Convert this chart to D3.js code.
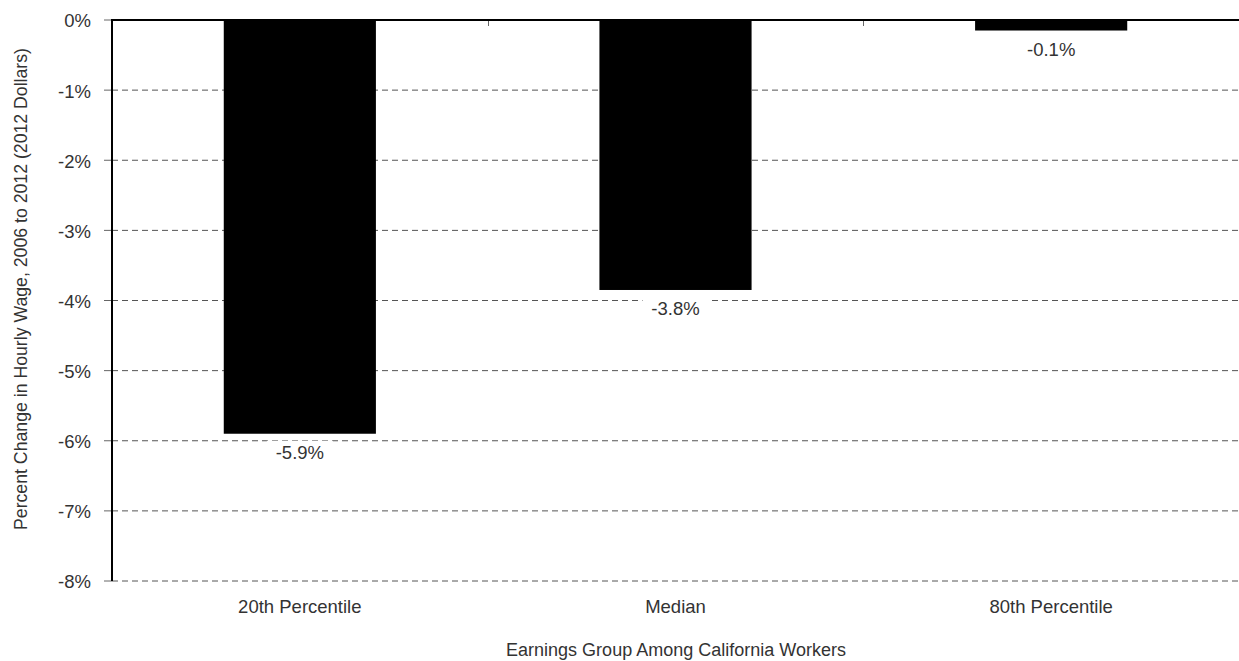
<!DOCTYPE html>
<html><head><meta charset="utf-8">
<script src="https://cdn.jsdelivr.net/npm/d3@7"></script>
<style>body{margin:0;background:#fff}svg{display:block;font-family:"Liberation Sans",Arial,sans-serif}</style>
</head><body><svg id="c" width="1239" height="661"></svg>
<script>
const categories = ["20th Percentile", "Median", "80th Percentile"];
const values = [-5.9, -3.85, -0.15];
const valueLabels = ["-5.9%", "-3.8%", "-0.1%"];
const yTicks = [0, -1, -2, -3, -4, -5, -6, -7, -8];
const yTickLabels = ["0%", "-1%", "-2%", "-3%", "-4%", "-5%", "-6%", "-7%", "-8%"];
const xTitle = "Earnings Group Among California Workers";
const yTitle = "Percent Change in Hourly Wage, 2006 to 2012 (2012 Dollars)";

const svg = d3.select("#c");
const L = 112, R = 1239, T = 20, B = 581;
const y = d3.scaleLinear().domain([0, -8]).range([T, B]);
const x = d3.scaleBand().domain(categories).range([L, R]).paddingInner(0.595).paddingOuter(0.2975);
const xb = d3.scaleBand().domain(categories).range([L, R]);
const txt = "#333";
const fs = 18.5;

// grid lines
svg.append("g").selectAll("line").data(yTicks.filter(d => d !== 0)).join("line")
  .attr("x1", L).attr("x2", R).attr("y1", d => y(d)).attr("y2", d => y(d))
  .attr("stroke", "#555").attr("stroke-width", 1).attr("stroke-dasharray", "6,4");

// y ticks
svg.append("g").selectAll("line").data(yTicks).join("line")
  .attr("x1", L - 8).attr("x2", L).attr("y1", d => y(d)).attr("y2", d => y(d))
  .attr("stroke", "#666").attr("stroke-width", 1);
svg.append("g").selectAll("text").data(yTicks).join("text")
  .attr("x", L - 21).attr("y", d => y(d) + 1).attr("dy", "0.35em")
  .attr("text-anchor", "end").attr("font-size", fs).attr("fill", txt)
  .text((d, i) => yTickLabels[i]);

// top ticks at band boundaries
svg.append("g").selectAll("line").data(categories.slice(1)).join("line")
  .attr("x1", d => Math.round(xb(d)) + 0.5).attr("x2", d => Math.round(xb(d)) + 0.5)
  .attr("y1", T).attr("y2", T + 6).attr("stroke", "#666").attr("stroke-width", 1);

// bars
svg.append("g").selectAll("rect").data(values).join("rect")
  .attr("x", (d, i) => x(categories[i])).attr("width", x.bandwidth())
  .attr("y", y(0)).attr("height", d => y(d) - y(0)).attr("fill", "#000");

// value labels with white background
const lg = svg.append("g").selectAll("g").data(values).join("g")
  .attr("transform", (d, i) => `translate(${x(categories[i]) + x.bandwidth() / 2},${y(d) + 19})`);
lg.append("rect").attr("x", -33).attr("y", -12).attr("width", 66).attr("height", 24).attr("fill", "#fff");
lg.append("text").attr("text-anchor", "middle").attr("dy", "0.35em").attr("font-size", fs)
  .attr("fill", txt).text((d, i) => valueLabels[i]);

// axes lines
svg.append("line").attr("x1", L).attr("x2", R).attr("y1", T).attr("y2", T).attr("stroke", "#000").attr("stroke-width", 2);
svg.append("line").attr("x1", L).attr("x2", L).attr("y1", T - 1).attr("y2", B).attr("stroke", "#000").attr("stroke-width", 2);

// category labels
svg.append("g").selectAll("text").data(categories).join("text")
  .attr("x", d => x(d) + x.bandwidth() / 2).attr("y", 607).attr("dy", "0.35em")
  .attr("text-anchor", "middle").attr("font-size", fs).attr("fill", txt).text(d => d);

// titles
svg.append("text").attr("x", 676).attr("y", 650).attr("dy", "0.35em")
  .attr("text-anchor", "middle").attr("font-size", 18).attr("fill", txt).text(xTitle);
svg.append("text").attr("transform", `translate(21,289) rotate(-90)`).attr("dy", "0.35em")
  .attr("text-anchor", "middle").attr("font-size", 18).attr("fill", txt)
  .attr("textLength", 482).attr("lengthAdjust", "spacingAndGlyphs").text(yTitle);
</script></body></html>
